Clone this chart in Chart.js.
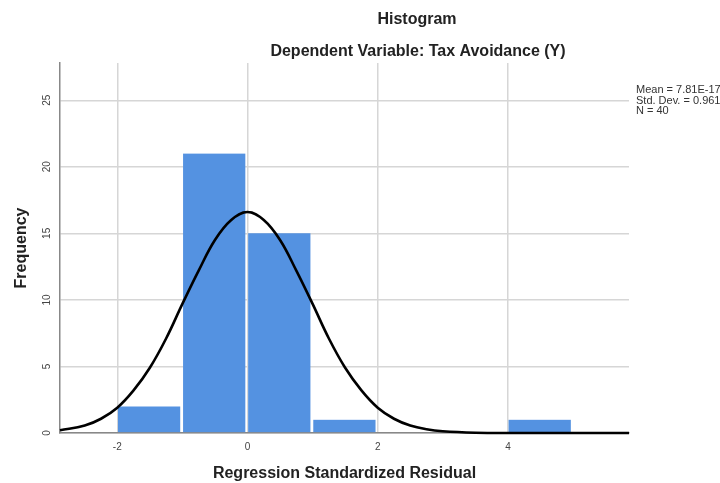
<!DOCTYPE html>
<html>
<head>
<meta charset="utf-8">
<script src="https://cdn.jsdelivr.net/npm/chart.js@4"></script>
<style>
  body { margin: 0; background: #fff; }
  #wrap { width: 720px; height: 483px; }
</style>
</head>
<body>
<div id="wrap"><canvas id="histChart"></canvas></div>
<script>
// histogram bins (centre of each 1-unit bin) and counts
const binCenters  = [-1.5, -0.5, 0.5, 1.5, 4.5];
const frequencies = [2, 21, 15, 1, 1];

// normal curve
const curveX = [-2.88, -2.5, -2.25, -2, -1.75, -1.5, -1.25, -1, -0.75, -0.5, -0.25, 0,
                0.25, 0.5, 0.75, 1, 1.25, 1.5, 1.75, 2, 2.25, 2.5, 2.75, 3, 3.5, 4, 5, 5.86];
const curveY = [0.2, 0.56, 1.07, 1.9, 3.2, 4.9, 7.1, 9.7, 12.2, 14.5, 16.0, 16.6,
                16.0, 14.5, 12.2, 9.7, 7.1, 4.9, 3.2, 1.9, 1.07, 0.56, 0.28, 0.13, 0.02, 0, 0, 0];

const xTicks = [-2, 0, 2, 4];
const yTicks = [0, 5, 10, 15, 20, 25];

const titleLines = ['Histogram', 'Dependent Variable: Tax Avoidance (Y)'];
const statLines  = ['Mean = 7.81E-17', 'Std. Dev. = 0.961', 'N = 40'];

const FONT = "'Liberation Sans', Arial, sans-serif";

// titles and the stats box are placed by hand, like the SPSS output
const textPlugin = {
  id: 'spssText',
  afterDraw(chart) {
    const ctx = chart.ctx;
    ctx.save();
    ctx.fillStyle = '#222';
    ctx.textAlign = 'center';
    ctx.textBaseline = 'middle';
    ctx.font = 'bold 16px ' + FONT;
    ctx.fillText(titleLines[0], 417, 20);
    ctx.fillText(titleLines[1], 418, 52);
    ctx.textAlign = 'left';
    ctx.font = '11px ' + FONT;
    ctx.fillStyle = '#333';
    statLines.forEach((s, i) => ctx.fillText(s, 636, 90 + i * 10.5));
    ctx.restore();
  },
};

new Chart(document.getElementById('histChart'), {
  type: 'bar',
  data: {
    datasets: [
      {
        type: 'line',
        data: curveX.map((x, i) => ({ x, y: curveY[i] })),
        borderColor: '#000',
        borderWidth: 2.6,
        pointRadius: 0,
        tension: 0.4,
        fill: false,
        clip: false,
        order: 0,
      },
      {
        data: binCenters.map((x, i) => ({ x, y: frequencies[i] })),
        backgroundColor: '#5492e1',
        borderColor: 'rgba(0,0,0,0)',
        borderWidth: { left: 1, right: 2.5, top: 0, bottom: 0 },
        borderSkipped: false,
        barPercentage: 1,
        categoryPercentage: 1,
        order: 1,
      },
    ],
  },
  options: {
    responsive: true,
    maintainAspectRatio: false,
    animation: false,
    layout: { padding: { left: 0, right: 91, top: 63, bottom: 0 } },
    plugins: {
      legend: { display: false },
      tooltip: { enabled: false },
    },
    scales: {
      x: {
        type: 'linear',
        offset: false,
        min: -2.88,
        max: 5.86,
        afterFit: s => { s.height = 50; },
        afterBuildTicks: s => { s.ticks = xTicks.map(v => ({ value: v })); },
        grid: { color: '#d6d6d6', lineWidth: 1.5, drawTicks: false, offset: false },
        border: { color: '#888', width: 1.5 },
        ticks: { color: '#444', font: { family: FONT, size: 10 }, padding: 8, maxRotation: 0 },
        title: {
          display: true,
          text: 'Regression Standardized Residual',
          color: '#222',
          font: { family: FONT, size: 16, weight: 'bold' },
          padding: { top: 0, bottom: 0 },
        },
      },
      y: {
        min: 0,
        max: 27.8,
        afterFit: s => { s.width = 60; },
        afterBuildTicks: s => { s.ticks = yTicks.map(v => ({ value: v })); },
        grid: { color: '#d6d6d6', lineWidth: 1.5, drawTicks: false },
        border: { color: '#888', width: 1.5 },
        ticks: {
          color: '#444',
          font: { family: FONT, size: 10 },
          padding: 7,
          minRotation: 90,
          maxRotation: 90,
          crossAlign: 'center',
        },
        title: {
          display: true,
          text: 'Frequency',
          color: '#222',
          font: { family: FONT, size: 16, weight: 'bold' },
          padding: { top: 12, bottom: 0 },
        },
      },
    },
  },
  plugins: [textPlugin],
});
</script>
</body>
</html>
